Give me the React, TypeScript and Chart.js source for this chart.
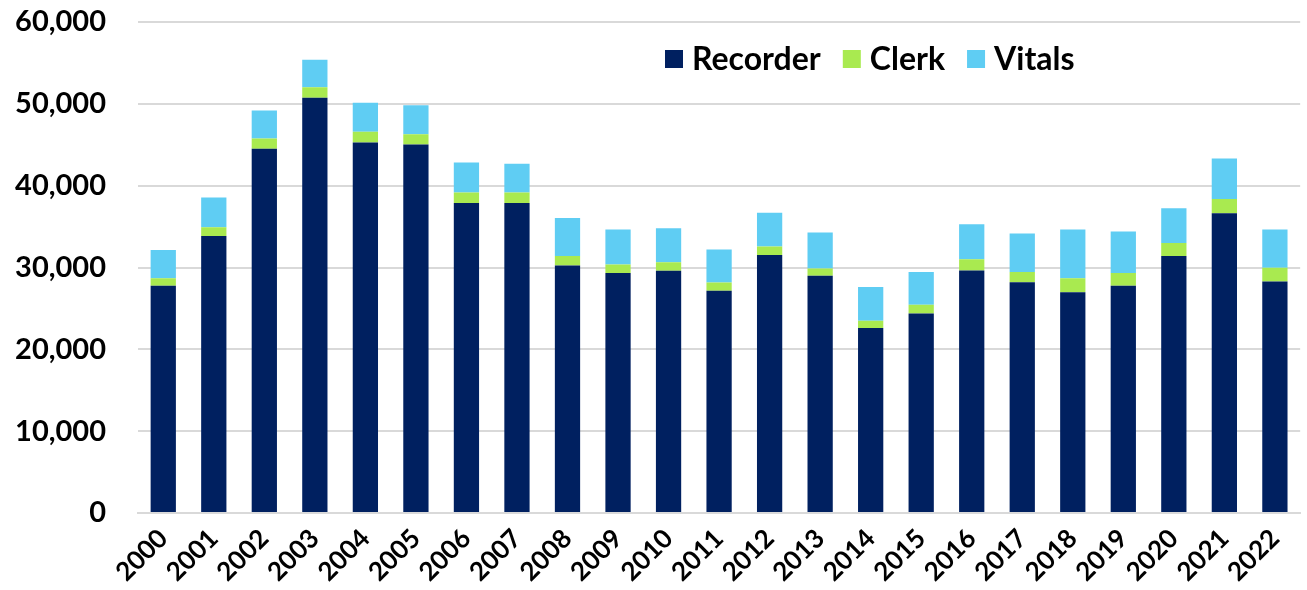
import React, { useEffect, useRef } from "react";
import { Chart, registerables } from "chart.js";

Chart.register(...registerables);

const years = [
  "2000", "2001", "2002", "2003", "2004", "2005", "2006", "2007", "2008", "2009", "2010", "2011",
  "2012", "2013", "2014", "2015", "2016", "2017", "2018", "2019", "2020", "2021", "2022",
];

const recorder = [
  27760, 33860, 44510, 50730, 45280, 45040, 37880, 37880, 30240, 29340, 29590, 27150,
  31540, 28980, 22600, 24390, 29630, 28210, 26990, 27760, 31420, 36620, 28290,
];

const clerk = [
  940, 1050, 1260, 1300, 1310, 1250, 1300, 1300, 1180, 1030, 1060, 1020,
  1020, 900, 890, 1050, 1380, 1250, 1710, 1580, 1580, 1750, 1670,
];

const vitals = [
  3450, 3630, 3410, 3370, 3530, 3540, 3660, 3500, 4630, 4260, 4140, 4020,
  4140, 4390, 4140, 4020, 4270, 4690, 5930, 5050, 4230, 4960, 4670,
];

const seriesNames = ["Recorder", "Clerk", "Vitals"];
const seriesColors = ["#002060", "#A9EA50", "#5FCDF3"];

const FONT = "Lato, 'Open Sans', sans-serif";

const insideLegend = {
  id: "insideLegend",
  afterDraw(chart: any) {
    const ctx = chart.ctx;
    ctx.save();
    ctx.font = `bold 32px ${FONT}`;
    ctx.textBaseline = "middle";
    ctx.textAlign = "left";
    let x = 665;
    const yc = 59;
    const box = 18;
    chart.data.datasets.forEach((ds: any) => {
      ctx.fillStyle = ds.backgroundColor;
      ctx.fillRect(x, yc - box / 2, box, box);
      x += box + 9;
      ctx.fillStyle = "#000";
      ctx.fillText(ds.label, x, yc + 1);
      x += ctx.measureText(ds.label).width + 22;
    });
    ctx.restore();
  },
};

export default function App() {
  const ref = useRef<HTMLCanvasElement | null>(null);

  useEffect(() => {
    if (!ref.current) return;
    const chart = new Chart(ref.current, {
      type: "bar",
      data: {
        labels: years,
        datasets: [recorder, clerk, vitals].map((d, i) => ({
          label: seriesNames[i],
          data: d,
          backgroundColor: seriesColors[i],
          borderWidth: 0,
          categoryPercentage: 1,
          barPercentage: 0.5,
        })),
      },
      options: {
        animation: false,
        responsive: true,
        maintainAspectRatio: false,
        layout: { padding: { top: 0, right: 2, left: 0, bottom: 0 } },
        plugins: {
          legend: { display: false },
          tooltip: { enabled: false },
        },
        scales: {
          x: {
            stacked: true,
            grid: { display: false, drawTicks: false },
            border: { display: true, color: "#D9D9D9", width: 2 },
            ticks: {
              color: "#000",
              font: { family: FONT, size: 26, weight: "bold" },
              minRotation: 45,
              maxRotation: 45,
              padding: 10,
              autoSkip: false,
            },
            afterFit: (scale: any) => {
              scale.height = 77;
            },
          },
          y: {
            stacked: true,
            min: 0,
            max: 60000,
            grid: { color: "#D9D9D9", lineWidth: 2, drawTicks: false },
            border: { display: false },
            ticks: {
              stepSize: 10000,
              color: "#000",
              padding: 32,
              font: { family: FONT, size: 29, weight: "bold", lineHeight: 1.2 },
              callback: (v: any) => Number(v).toLocaleString("en-US"),
            },
            afterFit: (scale: any) => {
              scale.width = 138;
              scale.paddingTop = 22;
              scale.paddingBottom = 0;
            },
          },
        },
      },
      plugins: [insideLegend],
    });
    return () => chart.destroy();
  }, []);

  return (
    <div style={{ position: "fixed", left: 0, top: 0, width: 1307, height: 590, background: "#fff" }}>
      <canvas ref={ref} />
    </div>
  );
}
